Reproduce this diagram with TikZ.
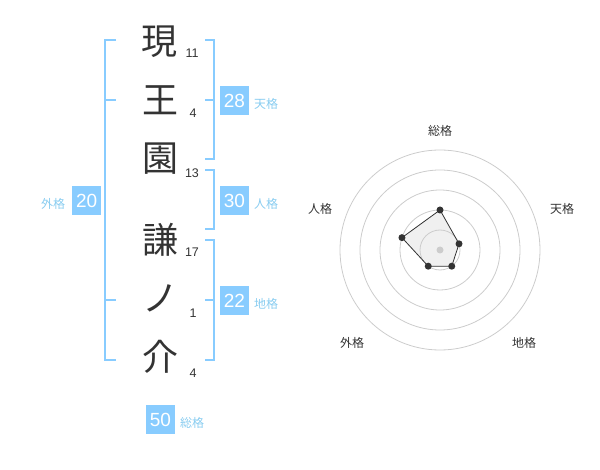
\documentclass[tikz,border=0pt]{standalone}
\usepackage{fontspec}
\setmainfont{Liberation Sans}
\newfontfamily\jp{Noto Sans CJK JP}
\definecolor{boxblue}{HTML}{88CCFF}
\definecolor{lblblue}{HTML}{88CCF0}
\definecolor{ink}{HTML}{333333}
\definecolor{ring}{HTML}{CCCCCC}
\definecolor{polyfill}{HTML}{E6E6E6}
\tikzset{
  kanji/.style={text=ink, inner sep=0pt, font=\jp\fontsize{36}{36}\selectfont},
  strokes/.style={text=ink, inner sep=0pt, font=\fontsize{12.5}{12.5}\selectfont},
  brk/.style={draw=boxblue, line width=2pt},
  valbox/.style={fill=boxblue, text=white, minimum size=29pt, inner sep=0pt, font=\fontsize{19}{19}\selectfont},
  lbl/.style={text=lblblue, inner sep=0pt, font=\jp\fontsize{12}{12}\selectfont},
  radlbl/.style={text=ink, inner sep=0pt, font=\jp\fontsize{12}{12}\selectfont},
  ringline/.style={draw=ring, line width=0.8pt},
  dot/.style={circle, fill=ink, inner sep=0pt, minimum size=7pt},
}
\begin{document}
\begin{tikzpicture}[x=1pt,y=-1pt]
\useasboundingbox (0,0) rectangle (600,470);
% name characters
\node[kanji] (k1) at (159,42) {現};
\node[kanji] (k2) at (160,100) {王};
\node[kanji] (k3) at (160,159) {園};
\node[kanji] (k4) at (160,240) {謙};
\node[kanji] (k5) at (160,298) {ノ};
\node[kanji] (k6) at (160,357) {介};
% stroke counts
\node[strokes] (s1) at (192,53) {11};
\node[strokes] (s2) at (193,113) {4};
\node[strokes] (s3) at (192,173) {13};
\node[strokes] (s4) at (192,252) {17};
\node[strokes] (s5) at (193,313) {1};
\node[strokes] (s6) at (193,373) {4};
% left bracket (外格)
\draw[brk] (116,40) -- (105,40) -- (105,360) -- (116,360);
\draw[brk] (105,100) -- (116,100);
\draw[brk] (105,300) -- (116,300);
% right brackets
\draw[brk] (205,40) -- (214,40) -- (214,159) -- (205,159);
\draw[brk] (205,100) -- (214,100);
\draw[brk] (205,170) -- (214,170) -- (214,229) -- (205,229);
\draw[brk] (205,240) -- (214,240) -- (214,360) -- (205,360);
\draw[brk] (205,300) -- (214,300);
% value boxes and labels
\node[valbox] (b20) at (86.7,200.5) {20};
\node[lbl] (l20) at (53,203.5) {外格};
\node[valbox] (b28) at (234.5,100.5) {28};
\node[lbl] (l28) at (266,104) {天格};
\node[valbox] (b30) at (234.5,200.5) {30};
\node[lbl] (l30) at (266,204) {人格};
\node[valbox] (b22) at (234.5,300.5) {22};
\node[lbl] (l22) at (266,304) {地格};
\node[valbox] (b50) at (160.5,419.5) {50};
\node[lbl] (l50) at (192,423) {総格};
% radar chart
\coordinate (c) at (440,250);
\coordinate (pS) at (440,210);
\coordinate (pT) at (459.02,243.82);
\coordinate (pC) at (451.76,266.18);
\coordinate (pG) at (428.24,266.18);
\coordinate (pJ) at (401.96,237.64);
\fill[polyfill, fill opacity=0.6] (pS) -- (pT) -- (pC) -- (pG) -- (pJ) -- cycle;
\foreach \r in {20,40,60,80,100} \draw[ringline] (c) circle[radius=\r];
\draw[draw=ink, line width=0.8pt] (pS) -- (pT) -- (pC) -- (pG) -- (pJ) -- cycle;
\fill[ring] (c) circle[radius=3.5];
\foreach \p in {pS,pT,pC,pG,pJ} \node[dot] at (\p) {};
\node[radlbl] (rS) at (440,131) {総格};
\node[radlbl] (rT) at (562,208.5) {天格};
\node[radlbl] (rJ) at (320,208.5) {人格};
\node[radlbl] (rG) at (352,342.5) {外格};
\node[radlbl] (rC) at (524,342.5) {地格};
\end{tikzpicture}
\end{document}
